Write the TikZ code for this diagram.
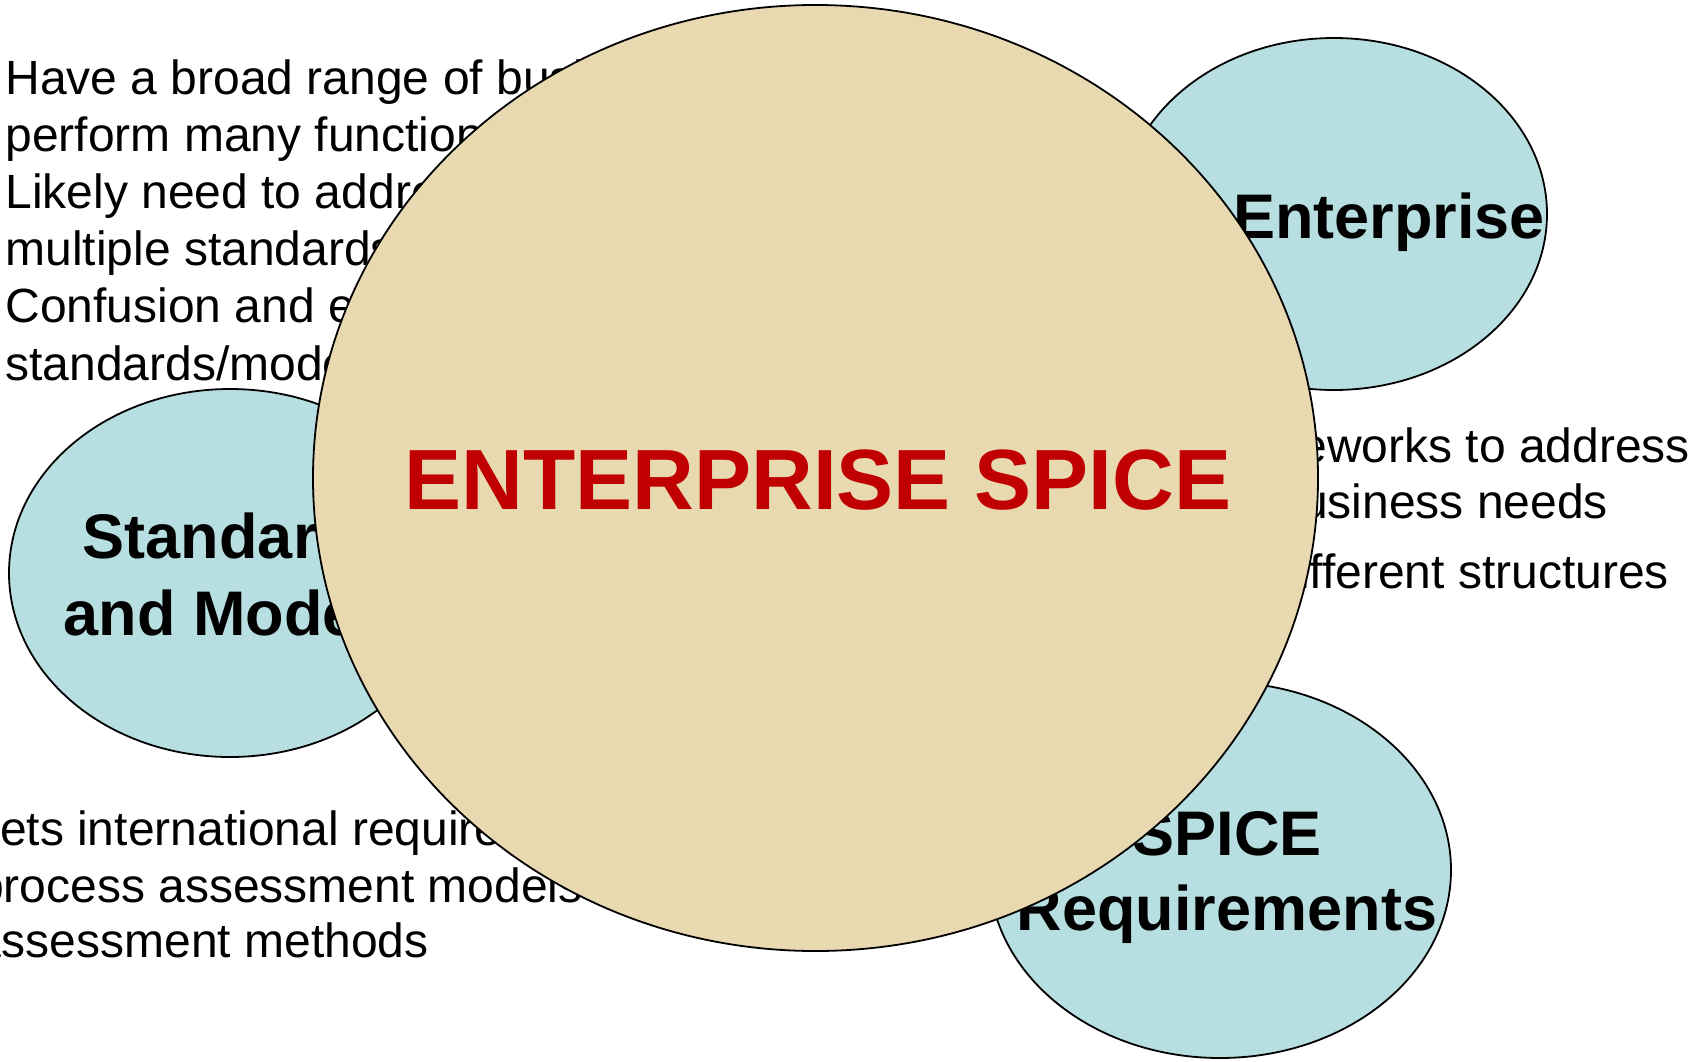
\documentclass[tikz,border=0pt]{standalone}
\usepackage{fontspec}
\setmainfont{Liberation Sans}
\usetikzlibrary{shapes.geometric}
\definecolor{PaleBlue}{RGB}{183,223,226}
\definecolor{Parchment}{RGB}{232,217,176}
\definecolor{SpiceRed}{RGB}{192,0,0}

\begin{document}
\begin{tikzpicture}[x=1pt, y=-1pt]
	\tikzstyle{every node}=[inner sep=0pt, outer sep=0pt];
	\tikzstyle{note}=[font=\fontsize{48}{57}\selectfont];
	\tikzstyle{caption}=[font=\fontsize{63}{77}\selectfont\bfseries, anchor=base];
	\tikzstyle{blob}=[draw, shape=ellipse, fill=PaleBlue, line width=1.8pt];
	\useasboundingbox (0,0) rectangle (1700,1061);
	% notes, top left
	\foreach \txt [count=\i] in {Have a broad range of business units that, perform many functions, Likely need to address, multiple standards, Confusion and effort, standards/models}
		\node [note, anchor=base west] (t0\i) at (5.5, {94+57.2*(\i-1)}) {\txt};
	% notes, right
	\node [note, anchor=base east] (t07) at (1690,462) {frameworks to address};
	\node [note, anchor=base east] (t08) at (1608,518) {business needs};
	\node [note, anchor=base east] (t09) at (1669,588) {different structures};
	% notes, bottom left
	\node [note, anchor=base west] (t10) at (-32,845) {Sets international requirements for};
	\node [note, anchor=base west] (t11) at (-23,902) {process assessment models};
	\node [note, anchor=base west] (t12) at (-25,957) {assessment methods};
	% the three outer ellipses
	\node [blob, minimum width=426pt, minimum height=352pt] (n01) at (1334,214) {};
	\node [blob, minimum width=442pt, minimum height=368pt] (n02) at (230,573) {};
	\node [blob, minimum width=462pt, minimum height=376pt] (n03) at (1220,870) {};
	\node [caption] (t13) at (1389,238) {Enterprise};
	\node [caption] (t14) at (237,558) {Standards};
	\node [caption] (t15) at (237,635) {and Models};
	\node [caption] (t16) at (1227,855) {SPICE};
	\node [caption] (t17) at (1227,930) {Requirements};
	% centre
	\node [draw, shape=ellipse, fill=Parchment, line width=1.8pt, minimum width=1005pt, minimum height=946pt] (core) at (815.5,478) {};
	\node [font=\fontsize{85.5}{100}\selectfont\bfseries, text=SpiceRed, anchor=base] (label) at (818,509) {ENTERPRISE SPICE};
\end{tikzpicture}
\end{document}
